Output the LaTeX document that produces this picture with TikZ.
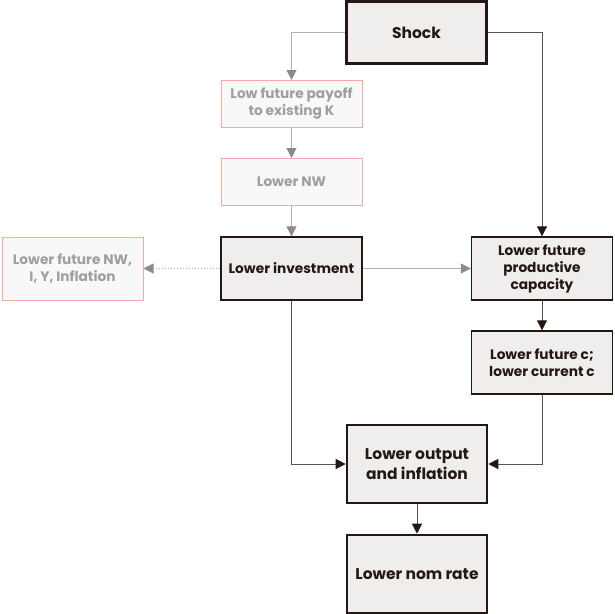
\documentclass[tikz,border=0pt]{standalone}
\usepackage{fontspec}
\setmainfont{Poppins}
\usetikzlibrary{arrows.meta}
\definecolor{ink}{HTML}{231815}
\definecolor{boxfill}{HTML}{EFEEED}
\definecolor{palefill}{HTML}{F8F8F8}
\definecolor{pinkline}{HTML}{F7A8A8}
\definecolor{greytext}{HTML}{A39E9E}
\definecolor{greyline}{HTML}{B0B0B0}
\definecolor{greytip}{HTML}{8F8A8A}
\definecolor{darkline}{HTML}{5A5252}
\tikzset{
  x=1pt, y=-1pt,
  every node/.style={font=\bfseries\fontsize{13.7}{17}\selectfont, align=center, inner sep=0pt},
  bigtext/.style={font=\bfseries\fontsize{15.5}{20}\selectfont},
  mainbox/.style={draw=ink, fill=boxfill, text=ink, line width=1.4pt},
  keybox/.style={draw=ink, fill=boxfill, text=ink, line width=2.6pt, bigtext},
  palebox/.style={draw=pinkline, fill=palefill, text=greytext, line width=1pt},
  tipdark/.style={color=darkline, line width=1pt, arrows={-{Triangle[length=10pt,width=10pt,color=ink]}}},
  tippale/.style={color=greyline, line width=1pt, arrows={-{Triangle[length=10pt,width=10pt,color=greytip]}}},
}
\begin{document}
\begin{tikzpicture}
\useasboundingbox (0,0) rectangle (614,614);
\fill[white] (0,0) rectangle (614,614);

% boxes
\node[keybox, minimum width=140pt, minimum height=62pt] (shock) at (416.5,32.5) {Shock};
\node[palebox, minimum width=141pt, minimum height=47pt] (payoff) at (291.5,104) {Low future payoff\\to existing K};
\node[palebox, minimum width=141pt, minimum height=47pt] (nw) at (291.5,182) {Lower NW};
\node[mainbox, minimum width=141pt, minimum height=63pt] (inv) at (291.5,268.5) {Lower investment};
\node[palebox, minimum width=141pt, minimum height=63pt] (future) at (72.5,268.5) {Lower future NW,\\I, Y, Inflation};
\node[mainbox, minimum width=141pt, minimum height=63pt] (cap) at (542,268.5) {Lower future\\productive\\capacity};
\node[mainbox, minimum width=141pt, minimum height=63pt] (cons) at (542,362.5) {Lower future c;\\lower current c};
\node[keybox, minimum width=140pt, minimum height=78pt] (out) at (417,464) {Lower output\\and inflation};
\node[keybox, minimum width=140pt, minimum height=78pt] (rate) at (417,574) {Lower nom rate};

% pale chain from the shock down to investment
\draw[tippale] (shock.west) -| (payoff.north);
\draw[tippale] (payoff) -- (nw);
\draw[tippale] (nw) -- (inv);
\draw[tippale, dotted] (inv.west) -- (future.east);
\draw[tippale] (inv.east) -- (cap.west);

% dark chain
\draw[tipdark] (shock.east) -| (cap.north);
\draw[tipdark] (cap) -- (cons);
\draw[tipdark] (inv.south) |- (out.west);
\draw[tipdark] (cons.south) |- (out.east);
\draw[tipdark] (out) -- (rate);
\end{tikzpicture}
\end{document}
